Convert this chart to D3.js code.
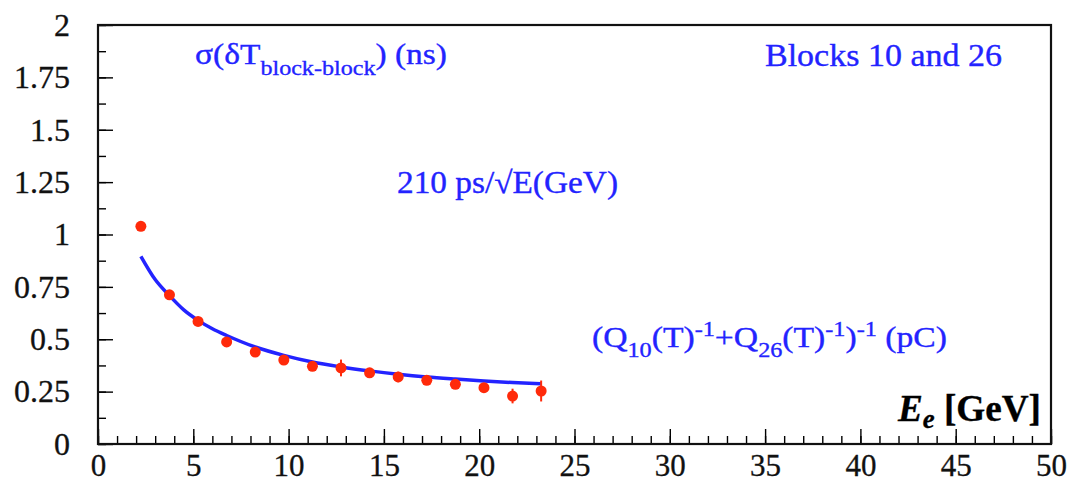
<!DOCTYPE html>
<html>
<head>
<meta charset="utf-8">
<script src="https://cdn.jsdelivr.net/npm/d3@7"></script>
<style>
  body { margin: 0; background: #fff; }
  svg text { font-family: "Liberation Serif", "DejaVu Serif", serif; }
</style>
</head>
<body>
<svg id="chart" width="1067" height="482"></svg>
<script>
// measured points (energy in GeV, sigma in ns)
let energies = [2.25, 3.75, 5.25, 6.75, 8.25, 9.75, 11.25, 12.75, 14.25, 15.75, 17.25, 18.75, 20.25, 21.75, 23.25];
let sigmas = [1.039, 0.712, 0.585, 0.487, 0.439, 0.401, 0.371, 0.363, 0.340, 0.320, 0.304, 0.285, 0.269, 0.229, 0.253];
let sigmaErrs = [0.01, 0.01, 0.01, 0.01, 0.01, 0.01, 0.015, 0.04, 0.02, 0.025, 0.015, 0.015, 0.015, 0.035, 0.05];
// fitted curve
let fitE = [2.25, 3.0, 3.75, 4.5, 5.25, 6.0, 6.75, 8.25, 9.75, 11.25, 12.75, 14.25, 15.75, 17.25, 18.75, 20.25, 21.75, 23.25];
let fitSigma = [0.896, 0.785, 0.708, 0.640, 0.590, 0.550, 0.518, 0.463, 0.423, 0.391, 0.368, 0.349, 0.333, 0.320, 0.310, 0.301, 0.293, 0.287];
let xTicks = [0, 5, 10, 15, 20, 25, 30, 35, 40, 45, 50];
let yTicks = [0, 0.25, 0.5, 0.75, 1, 1.25, 1.5, 1.75, 2];

let svg = d3.select("#chart");
let m = {left: 98, right: 1051, top: 25, bottom: 444};

let x = d3.scaleLinear().domain([0, 50]).range([m.left, m.right]);
let y = d3.scaleLinear().domain([0, 2]).range([m.bottom, m.top]);

const blue = "#2323ff";
const red = "#ff2a0a";

// minor ticks first
svg.append("g")
  .attr("transform", `translate(0,${m.bottom})`)
  .call(d3.axisBottom(x).tickValues(d3.range(0, 51, 1)).tickSize(-8).tickFormat(""))
  .call(g => g.select(".domain").remove())
  .selectAll("line").attr("stroke-width", 1.4);
svg.append("g")
  .attr("transform", `translate(${m.left},0)`)
  .call(d3.axisLeft(y).tickValues(d3.range(0, 2.01, 0.125)).tickSize(-8).tickFormat(""))
  .call(g => g.select(".domain").remove())
  .selectAll("line").attr("stroke-width", 1.4);

// major ticks + labels
let xAxis = svg.append("g")
  .attr("transform", `translate(0,${m.bottom})`)
  .call(d3.axisBottom(x).tickValues(xTicks).tickSize(-15).tickPadding(10).tickFormat(d => String(d)));
xAxis.select(".domain").remove();
xAxis.selectAll("line").attr("stroke-width", 1.4);
xAxis.selectAll("text").attr("font-size", 31).attr("fill", "#111")
  .attr("stroke", "#111").attr("stroke-width", 0.3)
  .style("font-family", "Liberation Serif");

let yAxis = svg.append("g")
  .attr("transform", `translate(${m.left},0)`)
  .call(d3.axisLeft(y).tickValues(yTicks).tickSize(-15).tickPadding(28).tickFormat(d => String(d)));
yAxis.select(".domain").remove();
yAxis.selectAll("line").attr("stroke-width", 1.4);
yAxis.selectAll("text").attr("font-size", 32).attr("fill", "#111")
  .attr("stroke", "#111").attr("stroke-width", 0.3)
  .style("font-family", "Liberation Serif");

// frame
svg.append("rect")
  .attr("x", m.left).attr("y", m.top)
  .attr("width", m.right - m.left).attr("height", m.bottom - m.top)
  .attr("fill", "none").attr("stroke", "#111").attr("stroke-width", 2.2);

// fit line
let line = d3.line().x((d, i) => x(fitE[i])).y(d => y(d)).curve(d3.curveMonotoneX);
svg.append("path")
  .datum(fitSigma)
  .attr("d", line)
  .attr("fill", "none").attr("stroke", blue).attr("stroke-width", 3.5);

// error bars + points
let pts = svg.append("g");
pts.selectAll("line")
  .data(sigmas)
  .join("line")
  .attr("x1", (d, i) => x(energies[i])).attr("x2", (d, i) => x(energies[i]))
  .attr("y1", (d, i) => y(d - sigmaErrs[i])).attr("y2", (d, i) => y(d + sigmaErrs[i]))
  .attr("stroke", red).attr("stroke-width", 2);
pts.selectAll("circle")
  .data(sigmas)
  .join("circle")
  .attr("cx", (d, i) => x(energies[i]))
  .attr("cy", d => y(d))
  .attr("r", 5.5)
  .attr("fill", red);

// annotations: text fitted to a measured width
function label(xp, yp, width, size, color, parts) {
  let t = svg.append("text")
    .attr("x", xp).attr("y", yp)
    .attr("font-size", size).attr("fill", color)
    .attr("stroke", color).attr("stroke-width", 0.35)
    .attr("textLength", width).attr("lengthAdjust", "spacingAndGlyphs");
  parts.forEach(p => {
    let s = t.append("tspan").text(p.t);
    if (p.sub) s.attr("font-size", size * 0.72).attr("dy", p.dy);
    else if (p.dy) s.attr("dy", p.dy);
    if (p.style) s.attr("font-style", p.style);
    if (p.weight) s.attr("font-weight", p.weight);
  });
  return t;
}

label(195, 64, 252, 30, blue, [
  {t: "σ(δT"},
  {t: "block-block", sub: true, dy: 11},
  {t: ") (ns)", dy: -11}
]);
label(765, 66, 237, 31, blue, [{t: "Blocks 10 and 26"}]);
label(397, 193, 221, 31, blue, [{t: "210 ps/√E(GeV)"}]);
label(592, 347, 355, 30, blue, [
  {t: "(Q"},
  {t: "10", sub: true, dy: 10},
  {t: "(T)", dy: -10},
  {t: "-1", sub: true, dy: -11},
  {t: "+Q", dy: 11},
  {t: "26", sub: true, dy: 10},
  {t: "(T)", dy: -10},
  {t: "-1", sub: true, dy: -11},
  {t: ")", dy: 11},
  {t: "-1", sub: true, dy: -11},
  {t: " (pC)", dy: 11}
]);
label(898, 421, 143, 37, "#000", [
  {t: "E", style: "italic", weight: "bold"},
  {t: "e", sub: true, dy: 7, style: "italic", weight: "bold"},
  {t: " [GeV]", dy: -7, weight: "bold"}
]);
</script>
</body>
</html>
